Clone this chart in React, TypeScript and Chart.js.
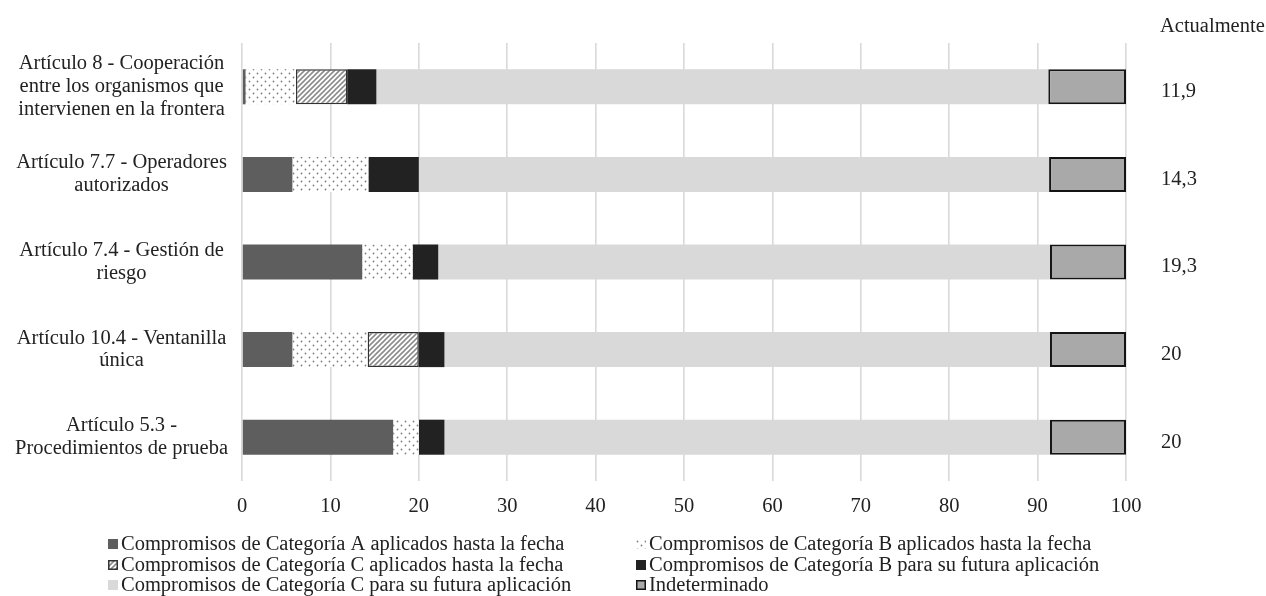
import React, { useEffect, useRef } from 'react';
import { Chart, registerables } from 'chart.js';

Chart.register(...registerables);

const categories: string[][] = [
  ['Artículo 8 - Cooperación', 'entre los organismos que', 'intervienen en la frontera'],
  ['Artículo 7.7 - Operadores', 'autorizados'],
  ['Artículo 7.4 - Gestión de', 'riesgo'],
  ['Artículo 10.4 - Ventanilla', 'única'],
  ['Artículo 5.3 -', 'Procedimientos de prueba'],
];

const catAApplied = [0.4, 5.7, 13.6, 5.7, 17.1];
const catBApplied = [5.7, 8.6, 5.7, 8.5, 2.9];
const catCApplied = [5.8, null, null, 5.8, null];
const catBFuture = [3.3, 5.7, 2.9, 2.9, 2.9];
const catCFuture = [76.0, 71.3, 69.2, 68.5, 68.5];
const undetermined = [8.8, 8.7, 8.6, 8.6, 8.6];

const currentHeader = 'Actualmente';
const currentLabels = ['11,9', '14,3', '19,3', '20', '20'];

const seriesNames = [
  'Compromisos de Categoría A aplicados hasta la fecha',
  'Compromisos de Categoría B aplicados hasta la fecha',
  'Compromisos de Categoría C aplicados hasta la fecha',
  'Compromisos de Categoría B para su futura aplicación',
  'Compromisos de Categoría C para su futura aplicación',
  'Indeterminado',
];

const xMin = 0;
const xMax = 100;
const xStep = 10;

const FONT = "'Liberation Serif', 'Times New Roman', serif";
const FS = 20.5;
const TEXT = '#222222';

function makeDots(): CanvasPattern | string {
  const c = document.createElement('canvas');
  c.width = 8;
  c.height = 8;
  const g = c.getContext('2d');
  if (!g) return '#eee';
  g.fillStyle = '#ffffff';
  g.fillRect(0, 0, 8, 8);
  g.fillStyle = '#808080';
  g.beginPath();
  g.arc(1.5, 1.5, 0.9, 0, Math.PI * 2);
  g.arc(5.5, 5.5, 0.9, 0, Math.PI * 2);
  g.fill();
  const p = g.createPattern(c, 'repeat');
  return p || '#eee';
}

function makeHatch(): CanvasPattern | string {
  const n = 5;
  const c = document.createElement('canvas');
  c.width = n;
  c.height = n;
  const g = c.getContext('2d');
  if (!g) return '#aaa';
  g.fillStyle = '#ffffff';
  g.fillRect(0, 0, n, n);
  g.strokeStyle = '#8c8c8c';
  g.lineWidth = 1.6;
  g.beginPath();
  g.moveTo(-1, n + 1);
  g.lineTo(n + 1, -1);
  g.moveTo(-1, 1);
  g.lineTo(1, -1);
  g.moveTo(n - 1, n + 1);
  g.lineTo(n + 1, n - 1);
  g.stroke();
  const p = g.createPattern(c, 'repeat');
  return p || '#aaa';
}

export default function App() {
  const ref = useRef<HTMLCanvasElement | null>(null);

  useEffect(() => {
    document.body.style.margin = '0';
    const canvas = ref.current;
    if (!canvas) return;
    const dots = makeDots();
    const hatch = makeHatch();

    const styles = [
      { bg: '#5e5e5e', border: '#5e5e5e', bw: 0 },
      { bg: dots, border: '#ffffff', bw: 0 },
      { bg: hatch, border: '#333333', bw: 1.5 },
      { bg: '#222222', border: '#222222', bw: 0 },
      { bg: '#d9d9d9', border: '#d9d9d9', bw: 0 },
      { bg: '#a9a9a9', border: '#141414', bw: 2 },
    ];
    const values = [catAApplied, catBApplied, catCApplied, catBFuture, catCFuture, undetermined];

    const overlay = {
      id: 'overlay',
      afterDraw(chart: any) {
        const ctx = chart.ctx as CanvasRenderingContext2D;
        const yScale = chart.scales.y;
        ctx.save();
        ctx.fillStyle = TEXT;
        ctx.font = `${FS}px ${FONT}`;
        ctx.textAlign = 'left';
        ctx.textBaseline = 'middle';
        ctx.fillText(currentHeader, 1160, 27);
        currentLabels.forEach((t, i) => {
          const y = yScale.getPixelForValue(i);
          ctx.fillText(t, 1161, y + 5);
        });

        // legend
        const cols = [108, 636];
        const rows = [544, 565, 585];
        seriesNames.forEach((name, i) => {
          const cx = cols[i % 2];
          const cy = rows[Math.floor(i / 2)];
          const s = styles[i];
          const bx = cx;
          const by = cy - 5;
          ctx.fillStyle = s.bg as any;
          ctx.fillRect(bx, by, 10, 10);
          if (s.bw > 0) {
            ctx.strokeStyle = s.border;
            ctx.lineWidth = 1.5;
            ctx.strokeRect(bx + 0.75, by + 0.75, 8.5, 8.5);
          }
          ctx.fillStyle = TEXT;
          ctx.font = `${FS}px ${FONT}`;
          ctx.fillText(name, bx + 13, cy + 1);
        });
        ctx.restore();
      },
    };

    const chart = new Chart(canvas, {
      type: 'bar',
      data: {
        labels: categories as any,
        datasets: seriesNames.map((name, i) => ({
          label: name,
          data: values[i] as any,
          backgroundColor: styles[i].bg as any,
          borderColor: styles[i].border,
          borderWidth: styles[i].bw,
          borderSkipped: false,
          categoryPercentage: 1,
          barPercentage: 0.4,
        })),
      },
      options: {
        indexAxis: 'y',
        animation: false,
        responsive: false,
        maintainAspectRatio: false,
        layout: { padding: { top: 43, right: 140, bottom: 0, left: 0 } },
        plugins: {
          legend: { display: false },
          tooltip: { enabled: false },
        },
        scales: {
          x: {
            stacked: true,
            min: xMin,
            max: xMax,
            ticks: {
              stepSize: xStep,
              color: TEXT,
              font: { family: FONT, size: FS },
              padding: 13,
            },
            grid: { color: '#d9d9d9', lineWidth: 1.6, drawTicks: false },
            border: { display: false },
            afterFit: (s: any) => {
              s.height = 115;
            },
          },
          y: {
            stacked: true,
            ticks: {
              color: TEXT,
              font: { family: FONT, size: FS, lineHeight: 1.12 },
              crossAlign: 'center',
              padding: 14,
            },
            grid: { display: false, drawTicks: false },
            border: { display: false },
            afterFit: (s: any) => {
              s.width = 242;
            },
          },
        },
      },
      plugins: [overlay],
    });

    return () => chart.destroy();
  }, []);

  return (
    <div style={{ width: 1266, height: 596 }}>
      <canvas ref={ref} width={1266} height={596} style={{ display: 'block', width: 1266, height: 596 }} />
    </div>
  );
}
